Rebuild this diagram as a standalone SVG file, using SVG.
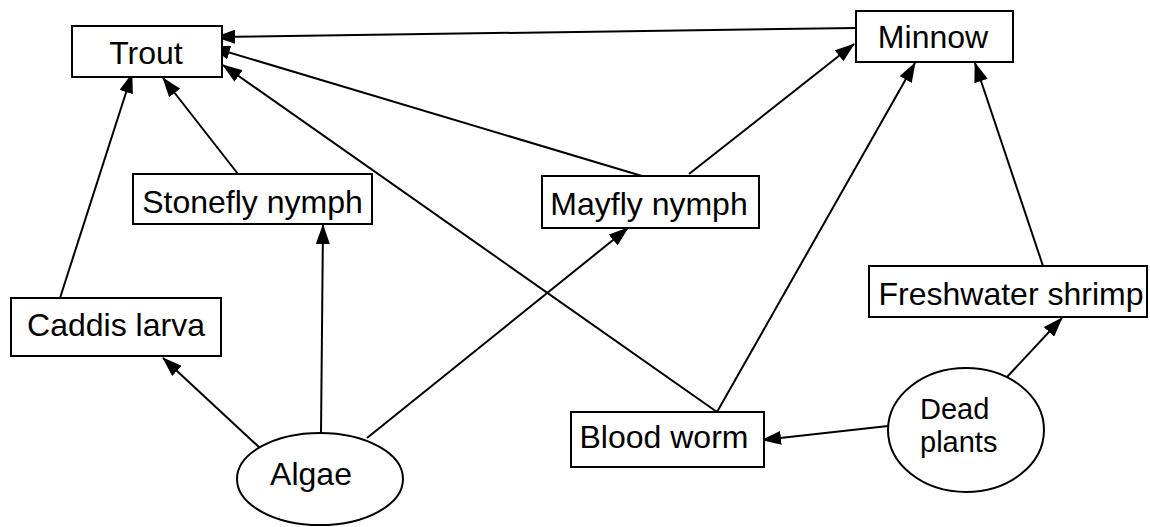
<svg xmlns="http://www.w3.org/2000/svg" width="1150" height="527" viewBox="0 0 1150 527">
<style>
.box{fill:#fff;stroke:#000;stroke-width:2}
.lbl{font-family:"Liberation Sans",Arial,sans-serif;font-size:32px;fill:#000;text-anchor:middle}
.small{font-size:29px;text-anchor:start}
.edge{stroke:#000;stroke-width:2;fill:none;marker-end:url(#ah)}
</style>
<defs>
<marker id="ah" markerUnits="userSpaceOnUse" markerWidth="20" markerHeight="14" refX="19" refY="7" orient="auto">
<path d="M0,0 L20,7 L0,14 Z" fill="#000"/>
</marker>
</defs>
<rect width="1150" height="527" fill="#fff"/>
<g id="connectors">
<line class="edge" x1="855" y1="28" x2="216" y2="37"/>
<line class="edge" x1="642" y1="176" x2="211" y2="47"/>
<line class="edge" x1="689" y1="174" x2="854" y2="44"/>
<line class="edge" x1="238" y1="174" x2="163" y2="78"/>
<line class="edge" x1="60" y1="298" x2="132" y2="74"/>
<line class="edge" x1="717" y1="412" x2="223" y2="65"/>
<line class="edge" x1="717" y1="412" x2="915" y2="63"/>
<line class="edge" x1="1043" y1="266" x2="975" y2="63"/>
<line class="edge" x1="1007" y1="377" x2="1062" y2="318"/>
<line class="edge" x1="888" y1="426" x2="762" y2="440"/>
<line class="edge" x1="260" y1="448" x2="163" y2="358"/>
<line class="edge" x1="321" y1="433" x2="323" y2="225"/>
<line class="edge" x1="367" y1="438" x2="628" y2="228"/>
</g>
<g id="trout"><rect class="box" x="72" y="26" width="150" height="51"/><text class="lbl" x="146" y="64">Trout</text></g>
<g id="minnow"><rect class="box" x="856" y="11" width="157" height="51"/><text class="lbl" x="933" y="48">Minnow</text></g>
<g id="stonefly"><rect class="box" x="133" y="174" width="239" height="50"/><text class="lbl" x="252.5" y="213">Stonefly nymph</text></g>
<g id="mayfly"><rect class="box" x="542" y="176" width="217" height="52"/><text class="lbl" x="649" y="215">Mayfly nymph</text></g>
<g id="caddis"><rect class="box" x="11" y="298" width="210" height="58"/><text class="lbl" x="116" y="336">Caddis larva</text></g>
<g id="shrimp"><rect class="box" x="869" y="266" width="278" height="51"/><text class="lbl" x="1011" y="305">Freshwater shrimp</text></g>
<g id="bloodworm"><rect class="box" x="571" y="412" width="193" height="55"/><text class="lbl" x="664" y="448">Blood worm</text></g>
<g id="deadplants"><ellipse class="box" cx="966" cy="430" rx="78" ry="62"/><text class="lbl small" x="920" y="419">Dead</text><text class="lbl small" x="920" y="452">plants</text></g>
<g id="algae"><ellipse class="box" cx="320" cy="479" rx="83" ry="46"/><text class="lbl" x="311" y="485">Algae</text></g>
</svg>
